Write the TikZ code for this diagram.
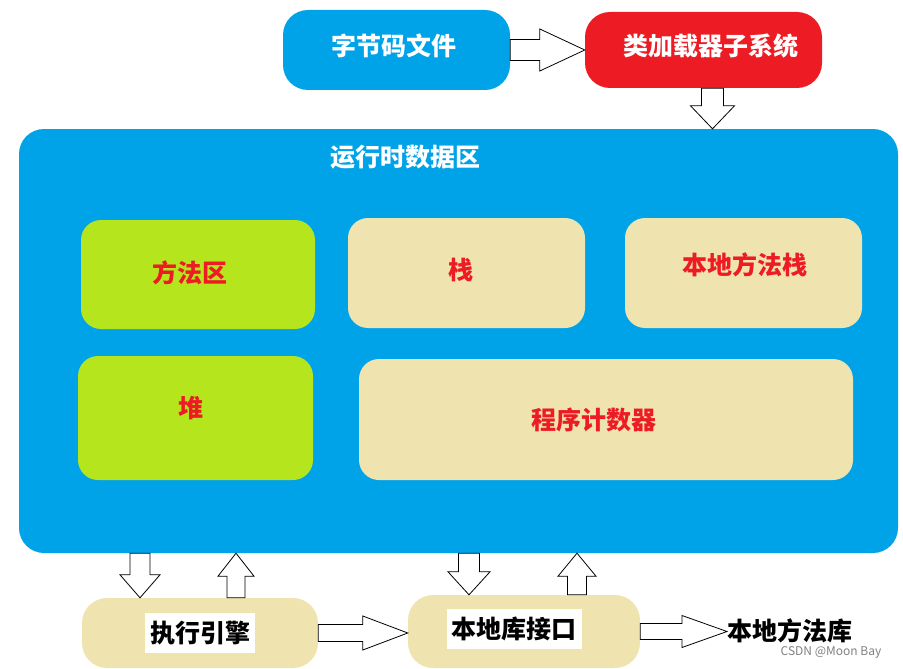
\documentclass[tikz,border=0pt]{standalone}
\usepackage{fontspec}
\newfontfamily\cjk{Noto Sans CJK SC}
\usetikzlibrary{calc}

\definecolor{areablue}{RGB}{0,162,232}
\definecolor{jvmred}{RGB}{237,28,36}
\definecolor{limegreen}{RGB}{181,230,29}
\definecolor{paperbeige}{RGB}{239,228,176}

\begin{document}
\begin{tikzpicture}[
        x = 1pt, y = -1pt,
        every node/.style = {font = \cjk\bfseries\fontsize{25}{30}\selectfont, inner sep = 0pt},
        box size/.style 2 args = {minimum width = #1, minimum height = #2},
        top box/.style = {fill = #1, rounded corners = 25pt},
        region/.style = {fill = #1, rounded corners = 20pt},
        bottom box/.style = {fill = paperbeige, rounded corners = 25pt},
        white text/.style = {text = white},
        red text/.style = {text = jvmred},
        text bg/.style = {fill = white, inner xsep = 5pt, minimum height = 40pt},
        hollow/.style = {draw = black, fill = white, line width = 0.8pt},
        arrow right/.style = {to path = {
            let \p1 = (\tikztostart), \p2 = (\tikztotarget) in
            (\x1, \y1 + 0.5*#1) -- (\x2 - 45pt, \y1 + 0.5*#1) -- (\x2 - 45pt, \y1 + #1)
            -- (\x2, \y1) -- (\x2 - 45pt, \y1 - #1) -- (\x2 - 45pt, \y1 - 0.5*#1)
            -- (\x1, \y1 - 0.5*#1) -- cycle}},
        arrow down/.style = {to path = {
            let \p1 = (\tikztostart), \p2 = (\tikztotarget) in
            (\x1 - 0.5*#1, \y1) -- (\x1 - 0.5*#1, \y2 + 23pt) -- (\x1 - #1, \y2 + 23pt)
            -- (\x1, \y2) -- (\x1 + #1, \y2 + 23pt) -- (\x1 + 0.5*#1, \y2 + 23pt)
            -- (\x1 + 0.5*#1, \y1) -- cycle}},
        arrow up/.style = {to path = {
            let \p1 = (\tikztostart), \p2 = (\tikztotarget) in
            (\x1 - 0.5*#1, \y1) -- (\x1 - 0.5*#1, \y2 - 23pt) -- (\x1 - #1, \y2 - 23pt)
            -- (\x1, \y2) -- (\x1 + #1, \y2 - 23pt) -- (\x1 + 0.5*#1, \y2 - 23pt)
            -- (\x1 + 0.5*#1, \y1) -- cycle}}
    ]

      \useasboundingbox (0, 0) rectangle (903, 669);

      % loading
      \node[top box = areablue, box size = {227pt}{80pt},
            label = {[white text, xshift = -3pt, yshift = 4pt]center:字节码文件}] (byte) at (396.5, 50) {};
      \node[top box = jvmred, box size = {237pt}{76pt},
            label = {[white text, xshift = 7pt, yshift = 4pt]center:类加载器子系统}] (loader) at (703.5, 50) {};

      % runtime data area
      \node[fill = areablue, rounded corners = 25pt, box size = {879pt}{424pt}] (rt) at (458.5, 341) {};
      \node[white text] (rttitle) at (405, 157) {运行时数据区};

      \node[region = limegreen, box size = {234pt}{109pt},
            label = {[red text, xshift = -8pt, yshift = 2pt]center:方法区}] (method) at (198, 274.5) {};
      \node[region = paperbeige, box size = {237pt}{110pt},
            label = {[red text, xshift = -6pt, yshift = 3pt]center:栈}] (stack) at (466.5, 273) {};
      \node[region = paperbeige, box size = {237pt}{110pt},
            label = {[red text, xshift = 1pt, yshift = 8pt]center:本地方法栈}] (nstack) at (743.5, 273) {};
      \node[region = limegreen, box size = {235pt}{124pt},
            label = {[red text, xshift = -5pt, yshift = 10pt]center:堆}] (heap) at (195.5, 418) {};
      \node[region = paperbeige, box size = {494pt}{121pt},
            label = {[red text, xshift = -12pt]center:程序计数器}] (pc) at (606, 419.5) {};

      % execution
      \node[bottom box, box size = {236pt}{70pt}, label = {[text bg]center:执行引擎}] (exec) at (200, 633) {};
      \node[bottom box, box size = {232pt}{73pt},
            label = {[text bg, xshift = -10pt, yshift = 3pt]center:本地库接口}] (native) at (524, 631.5) {};
      \node[anchor = west] (lib) at (727, 631) {本地方法库};

      \node[font = \cjk\fontsize{12}{14}\selectfont, text = gray] (mark) at (831, 652) {CSDN @Moon Bay};

      \path
            (byte.east) edge[hollow, arrow right = 21pt] (loader.west)
            ($(loader.south) + (9, 0)$) edge[hollow, arrow down = 22pt] (rt.north)
            ($(rt.south -| exec.north) + (-60, 0)$) edge[hollow, arrow down = 20pt] (exec.north)
            ($(exec.north) + (36, 0)$) edge[hollow, arrow up = 18pt] (rt.south)
            ($(rt.south -| native.north) + (-55, 0)$) edge[hollow, arrow down = 21pt] (native.north)
            ($(native.north) + (53, 0)$) edge[hollow, arrow up = 19pt] (rt.south)
            (exec.east) edge[hollow, arrow right = 17pt] (native.west)
            (native.east) edge[hollow, arrow right = 16pt] (lib.west);

\end{tikzpicture}
\end{document}
